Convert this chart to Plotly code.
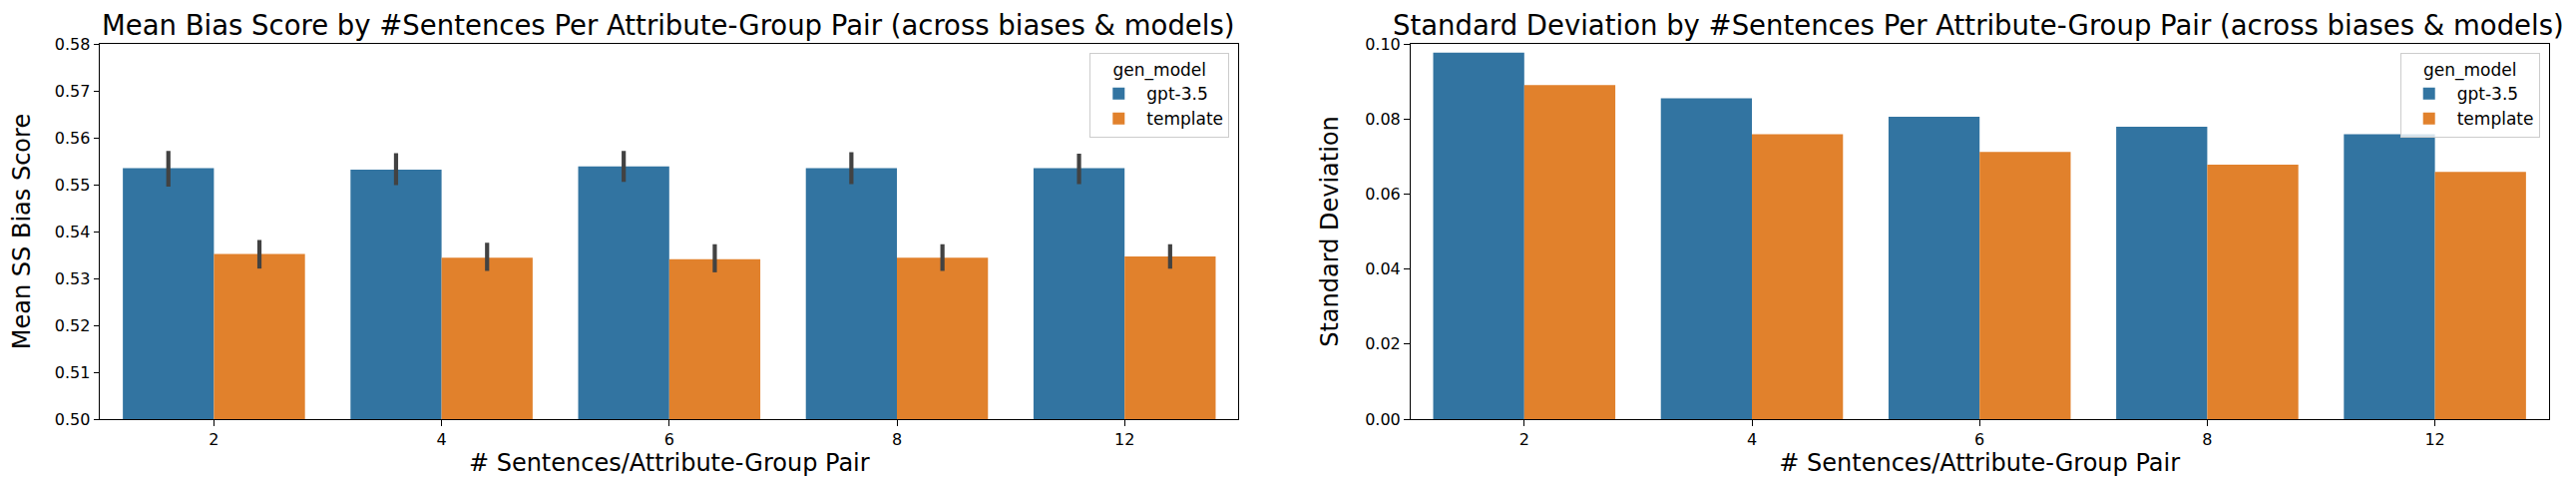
import plotly.graph_objects as go

categories = ["2", "4", "6", "8", "12"]
models = ["gpt-3.5", "template"]

mean_gpt = [0.5535, 0.5532, 0.5539, 0.5535, 0.5535]
mean_gpt_hi = [0.5572, 0.5567, 0.5572, 0.5569, 0.5566]
mean_gpt_lo = [0.5496, 0.5499, 0.5506, 0.5501, 0.5501]

mean_tpl = [0.5352, 0.5344, 0.5341, 0.5344, 0.5347]
mean_tpl_hi = [0.5382, 0.5376, 0.5373, 0.5373, 0.5373]
mean_tpl_lo = [0.5321, 0.5316, 0.5313, 0.5316, 0.5321]

std_gpt = [0.0977, 0.0855, 0.0806, 0.0779, 0.0759]
std_tpl = [0.0890, 0.0759, 0.0712, 0.0678, 0.0659]

left_ticks = [0.50, 0.51, 0.52, 0.53, 0.54, 0.55, 0.56, 0.57, 0.58]
right_ticks = [0.00, 0.02, 0.04, 0.06, 0.08, 0.10]

title_left = "Mean Bias Score by #Sentences Per Attribute-Group Pair (across biases & models)"
title_right = "Standard Deviation by #Sentences Per Attribute-Group Pair (across biases & models)"
xlabel = "# Sentences/Attribute-Group Pair"

COLORS = {"gpt-3.5": "#3274a1", "template": "#e1812c"}
ERR_COLOR = "#424242"
FONT = "DejaVu Sans"
W, H = 2582, 478

fig = go.Figure()

means = {"gpt-3.5": (mean_gpt, mean_gpt_hi, mean_gpt_lo), "template": (mean_tpl, mean_tpl_hi, mean_tpl_lo)}
for m in models:
    v, hi, lo = means[m]
    fig.add_trace(go.Bar(
        x=categories, y=v, name=m, marker=dict(color=COLORS[m], line=dict(width=0)),
        error_y=dict(type="data", symmetric=False,
                     array=[h - a for h, a in zip(hi, v)],
                     arrayminus=[a - l for l, a in zip(lo, v)],
                     color=ERR_COLOR, thickness=4.2, width=0),
        xaxis="x", yaxis="y", legend="legend", hoverinfo="skip",
    ))

stds = {"gpt-3.5": std_gpt, "template": std_tpl}
for m in models:
    fig.add_trace(go.Bar(
        x=categories, y=stds[m], name=m, marker=dict(color=COLORS[m], line=dict(width=0)),
        xaxis="x2", yaxis="y2", legend="legend2", hoverinfo="skip",
    ))

def px_x(p):
    return p / W

def px_y(p):  # p measured from top
    return (H - p) / H

ax_top, ax_bot = 36, 412
L = (92.3, 1233.3)
R = (1405.7, 2546.7)

axis_common = dict(
    showline=True, mirror=True, linecolor="black", linewidth=1.3,
    ticks="outside", ticklen=5.6, tickwidth=1.3, tickcolor="black",
    showgrid=False, zeroline=False,
    tickfont=dict(family=FONT, size=16, color="black"),
    automargin=False,
)

def legend_cfg(right_px):
    return dict(x=px_x(right_px), xanchor="right", y=px_y(45), yanchor="top",
                bgcolor="rgba(255,255,255,0.8)", bordercolor="#cccccc", borderwidth=1,
                font=dict(family=FONT, size=17, color="black"),
                title=dict(text="gen_model", side="top center",
                           font=dict(family=FONT, size=17, color="black")),
                tracegroupgap=0, itemwidth=46)

fig.update_layout(
    width=W, height=H,
    margin=dict(l=0, r=0, t=0, b=0),
    paper_bgcolor="white", plot_bgcolor="white",
    barmode="group", bargap=0.2, bargroupgap=0,
    font=dict(family=FONT, color="black"),
    xaxis=dict(domain=[px_x(L[0]), px_x(L[1])], anchor="y", type="category",
               range=[-0.5, 4.5],
               title=dict(text=xlabel, font=dict(family=FONT, size=24, color="black"), standoff=5),
               **axis_common),
    yaxis=dict(domain=[px_y(ax_bot), px_y(ax_top)], anchor="x", range=[0.50, 0.58],
               tickvals=left_ticks, tickformat=".2f",
               title=dict(text="Mean SS Bias Score", font=dict(family=FONT, size=24, color="black"), standoff=19),
               **axis_common),
    xaxis2=dict(domain=[px_x(R[0]), px_x(R[1])], anchor="y2", type="category",
                range=[-0.5, 4.5],
                title=dict(text=xlabel, font=dict(family=FONT, size=24, color="black"), standoff=5),
                **axis_common),
    yaxis2=dict(domain=[px_y(ax_bot), px_y(ax_top)], anchor="x2", range=[0.0, 0.10],
                tickvals=right_ticks, tickformat=".2f",
                title=dict(text="Standard Deviation", font=dict(family=FONT, size=24, color="black"), standoff=19),
                **axis_common),
    legend=legend_cfg(1224.3),
    legend2=legend_cfg(2537.7),
    showlegend=True,
)

for txt, (a, b) in ((title_left, L), (title_right, R)):
    fig.add_annotation(text=txt, xref="paper", yref="paper",
                       x=px_x((a + b) / 2) - 1.5 / W, xanchor="center",
                       y=1.0, yanchor="top", borderpad=0, showarrow=False,
                       font=dict(family=FONT, size=27.5, color="black"))

fig.write_html("out.html")
